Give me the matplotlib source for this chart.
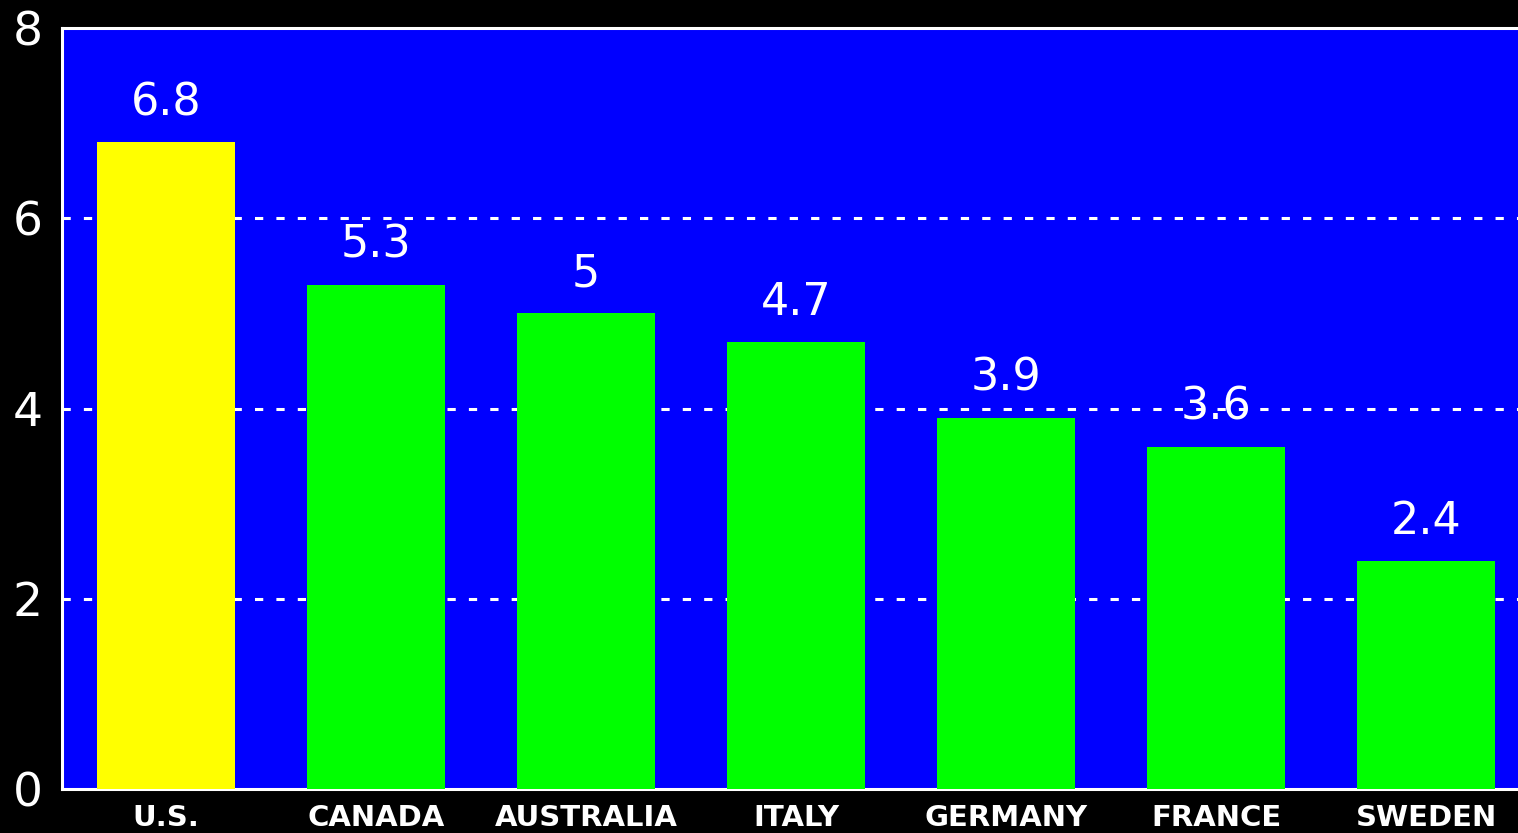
import numpy as np
import matplotlib
matplotlib.use("Agg")
import matplotlib.pyplot as plt

# data
countries = ["U.S.", "CANADA", "AUSTRALIA", "ITALY", "GERMANY", "FRANCE", "SWEDEN"]
values = [6.8, 5.3, 5.0, 4.7, 3.9, 3.6, 2.4]
value_labels = ["6.8", "5.3", "5", "4.7", "3.9", "3.6", "2.4"]
bar_colors = ["#FFFF00"] + ["#00FF00"] * 6
yticks = [0, 2, 4, 6, 8]

W, H = 1518, 833
fig = plt.figure(figsize=(W / 100, H / 100), dpi=100, facecolor="black")
ax = fig.add_axes([62 / W, (H - 789) / H, (W - 62) / W, (789 - 28) / H])
ax.set_facecolor("#0000FF")

x = np.arange(len(countries))
ax.bar(x, values, width=0.657, color=bar_colors, zorder=3)

# dotted grid lines
for g in [2, 4, 6]:
    ax.axhline(g, color="white", lw=2.2, dashes=(2.7, 4.3), zorder=1)

# value labels above bars
for xi, v, lab in zip(x, values, value_labels):
    ax.annotate(lab, (xi, v), xytext=(0, 13), textcoords="offset points",
                ha="center", va="bottom", color="white", fontsize=32, zorder=4)

ax.set_xlim(-0.495, 6.438)
ax.set_ylim(0, 8)
ax.set_yticks(yticks)
ax.set_yticklabels([str(t) for t in yticks], fontsize=34, color="white")
ax.set_xticks(x)
ax.set_xticklabels(countries, fontsize=21, fontweight="bold", color="white")
ax.tick_params(axis="both", length=0)
ax.tick_params(axis="y", pad=14)
ax.tick_params(axis="x", pad=11)

for side in ["left", "top", "bottom"]:
    ax.spines[side].set_color("white")
    ax.spines[side].set_linewidth(2.2)
ax.spines["right"].set_visible(False)

fig.savefig("out.png", dpi=100, facecolor="black")
